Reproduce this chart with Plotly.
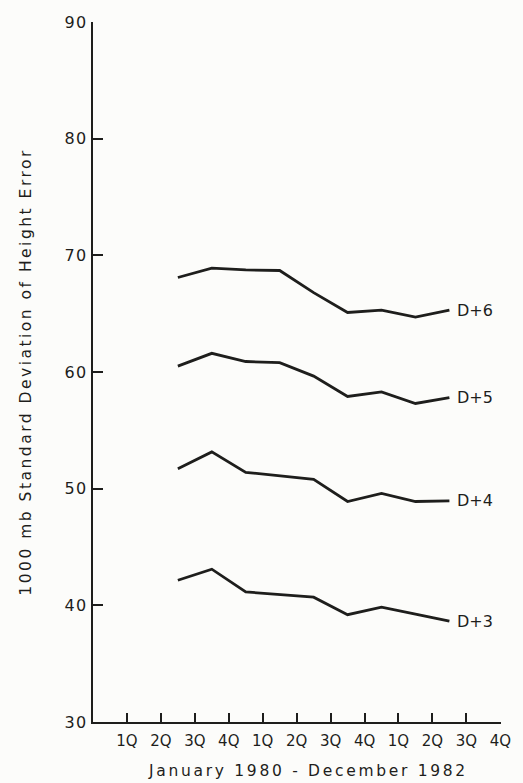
import plotly.graph_objects as go

# Quarter positions (mid-quarter, 3Q 1980 through 3Q 1982)
quarters = [2.5, 3.5, 4.5, 5.5, 6.5, 7.5, 8.5, 9.5, 10.5]

# 1000 mb height error standard deviation by forecast day
d6 = [68.1, 68.9, 68.75, 68.7, 66.8, 65.1, 65.3, 64.7, 65.3]
d5 = [60.5, 61.6, 60.9, 60.8, 59.65, 57.9, 58.3, 57.3, 57.8]
d4 = [51.7, 53.15, 51.4, 51.1, 50.8, 48.9, 49.6, 48.9, 48.95]
d3 = [42.15, 43.1, 41.15, 40.9, 40.7, 39.2, 39.85, 39.25, 38.65]

series = [("D+6", d6), ("D+5", d5), ("D+4", d4), ("D+3", d3)]

x_tick_vals = list(range(1, 13))
x_tick_text = ["1Q", "2Q", "3Q", "4Q"] * 3
y_tick_vals = [30, 40, 50, 60, 70, 80, 90]

ink = "#1e1e1c"
paper = "#fcfcfa"
font_family = "DejaVu Sans"


def spaced(text, px):
    return f'<span style="letter-spacing:{px}px">{text}</span>'


fig = go.Figure()
annotations = []
for name, vals in series:
    fig.add_trace(go.Scatter(
        x=quarters, y=vals, mode="lines", name=name,
        line=dict(color=ink, width=2.8), showlegend=False,
        hoverinfo="skip",
    ))
    annotations.append(dict(
        x=quarters[-1], y=vals[-1], xref="x", yref="y",
        text=name, showarrow=False, xanchor="left", yanchor="middle",
        xshift=6, font=dict(family=font_family, size=16, color=ink),
    ))

# axis titles
annotations.append(dict(
    x=-0.165, y=0.5, xref="paper", yref="paper",
    text=spaced("1000 mb Standard Deviation of Height Error", 2.5),
    showarrow=False, textangle=-90, xanchor="center", yanchor="middle",
    font=dict(family=font_family, size=15.5, color=ink),
))
annotations.append(dict(
    x=0.528, y=-0.07, xref="paper", yref="paper",
    text=spaced("January 1980 - December 1982", 2.7),
    showarrow=False, xanchor="center", yanchor="middle",
    font=dict(family=font_family, size=15.5, color=ink),
))

fig.update_layout(
    width=523, height=783,
    margin=dict(l=93, r=19, t=22, b=61),
    paper_bgcolor=paper, plot_bgcolor=paper,
    annotations=annotations,
    font=dict(family=font_family, color=ink),
)
fig.update_xaxes(
    range=[0, 12.02], showgrid=False, zeroline=False,
    showline=True, linecolor=ink, linewidth=2,
    tickmode="array", tickvals=x_tick_vals, ticktext=x_tick_text,
    ticks="inside", ticklen=9, tickwidth=2, tickcolor=ink,
    ticklabelstandoff=4,
    tickfont=dict(family=font_family, size=15, color=ink),
)
fig.update_yaxes(
    range=[30, 90], showgrid=False, zeroline=False,
    showline=True, linecolor=ink, linewidth=2,
    tickmode="array", tickvals=y_tick_vals,
    ticktext=[spaced(str(v), 1.5) for v in y_tick_vals],
    ticks="inside", ticklen=10, tickwidth=2, tickcolor=ink,
    tickfont=dict(family=font_family, size=16, color=ink),
)

fig.write_html("out.html")
